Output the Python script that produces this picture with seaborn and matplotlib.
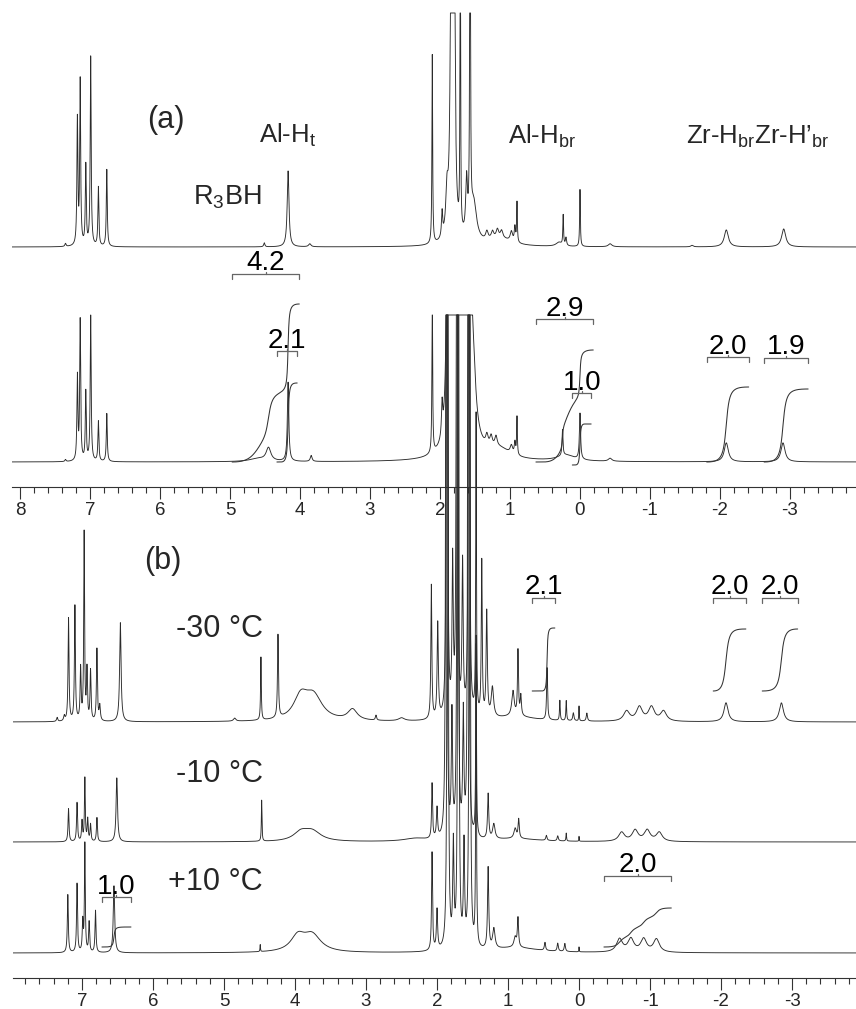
import numpy as np
import matplotlib
matplotlib.use('Agg')
import matplotlib.pyplot as plt
import seaborn as sns
from matplotlib.ticker import MultipleLocator, FuncFormatter

# ---- peak lists: (ppm, height in px, half width in ppm)
a1_peaks = [
    (7.35, 3, 0.01), (7.18, 126, 0.008), (7.14, 164, 0.008), (7.06, 80, 0.008),
    (6.99, 189, 0.008), (6.88, 59, 0.008), (6.76, 77, 0.008),
    (4.51, 4, 0.01), (4.17, 76, 0.015), (3.86, 3, 0.02),
    (2.11, 189, 0.006), (1.97, 25, 0.01), (1.90, 40, 0.02),
    (1.83, 900, 0.012), (1.80, 600, 0.01), (1.71, 500, 0.004), (1.62, 55, 0.015),
    (1.57, 600, 0.005), (1.52, 40, 0.05),
    (1.33, 8, 0.02), (1.25, 7, 0.02), (1.18, 8, 0.02), (1.12, 7, 0.02), (1.15, 8, 0.2),
    (0.98, 10, 0.02), (0.93, 15, 0.01), (0.90, 40, 0.006),
    (0.30, 4, 0.05), (0.24, 30, 0.006), (0.20, 8, 0.01), (0.00, 57, 0.006),
    (-0.43, 3, 0.03), (-1.60, 1.5, 0.02), (-2.09, 17, 0.035), (-2.91, 18, 0.035),
]
a2_peaks = [
    (7.35, 2, 0.01), (7.18, 84, 0.008), (7.14, 140, 0.008), (7.06, 69, 0.008),
    (6.99, 147, 0.008), (6.88, 40, 0.008), (6.76, 48, 0.008),
    (4.60, 3, 0.15), (4.45, 13, 0.04), (4.17, 79, 0.012), (3.84, 6, 0.015),
    (2.11, 162, 0.006), (1.97, 32, 0.01), (1.90, 45, 0.02),
    (1.88, 900, 0.01), (1.84, 800, 0.01), (1.73, 900, 0.02), (1.66, 900, 0.02),
    (1.60, 900, 0.02), (1.52, 40, 0.04),
    (1.33, 10, 0.02), (1.27, 10, 0.02), (1.20, 10, 0.02), (1.15, 10, 0.2),
    (0.98, 8, 0.02), (0.93, 12, 0.01), (0.90, 38, 0.006),
    (0.20, 6, 0.15), (0.25, 26, 0.008), (0.00, 46, 0.01),
    (-0.43, 3, 0.03), (-2.09, 19, 0.035), (-2.90, 19, 0.035),
]
m30_peaks = [
    (7.35, 4, 0.01), (7.25, 5, 0.01), (7.19, 103, 0.008), (7.10, 115, 0.008),
    (7.02, 52, 0.008), (6.97, 188, 0.007), (6.93, 50, 0.008), (6.88, 50, 0.008),
    (6.79, 72, 0.008), (6.75, 15, 0.01), (6.46, 99, 0.012),
    (4.85, 3, 0.02), (4.48, 63, 0.006), (4.24, 83, 0.008),
    (3.92, 22, 0.12), (3.74, 24, 0.15), (3.19, 11, 0.08), (2.86, 5, 0.01), (2.50, 3, 0.05),
    (2.08, 134, 0.008), (1.99, 95, 0.01),
    (1.86, 3000, 0.004), (1.72, 3000, 0.004), (1.55, 3000, 0.004),
    (1.78, 150, 0.01), (1.64, 150, 0.01), (1.45, 300, 0.006),
    (1.37, 155, 0.008), (1.30, 105, 0.01), (1.22, 30, 0.02), (0.90, 5, 0.35),
    (0.93, 25, 0.02), (0.86, 65, 0.008), (0.82, 20, 0.01), (0.45, 52, 0.008),
    (0.27, 20, 0.006), (0.18, 20, 0.006), (0.08, 8, 0.01), (0.00, 15, 0.004),
    (-0.11, 8, 0.01),
    (-0.67, 10, 0.05), (-0.85, 14, 0.05), (-1.02, 14, 0.05), (-1.19, 10, 0.05),
    (-2.07, 19, 0.035), (-2.85, 19, 0.035),
]
m10_peaks = [
    (7.19, 33, 0.008), (7.07, 39, 0.008), (7.00, 20, 0.008), (6.96, 63, 0.007),
    (6.92, 22, 0.008), (6.88, 17, 0.008), (6.79, 24, 0.008), (6.51, 64, 0.012),
    (4.47, 41, 0.005), (3.92, 8, 0.12), (3.76, 10, 0.15), (2.30, 3, 0.2),
    (2.07, 55, 0.008), (2.00, 30, 0.01),
    (1.87, 3000, 0.004), (1.71, 3000, 0.004), (1.56, 3000, 0.004),
    (1.79, 120, 0.01), (1.63, 120, 0.01), (1.45, 200, 0.006),
    (1.28, 45, 0.01), (1.20, 15, 0.02), (0.90, 3, 0.4),
    (0.90, 10, 0.02), (0.85, 19, 0.01), (0.46, 5, 0.01), (0.30, 5, 0.01),
    (0.18, 8, 0.005), (0.00, 5, 0.003),
    (-0.60, 9, 0.05), (-0.79, 11, 0.05), (-0.96, 11, 0.05), (-1.13, 9, 0.05),
]
p10_peaks = [
    (7.20, 58, 0.008), (7.07, 69, 0.008), (6.99, 30, 0.008), (6.96, 108, 0.007),
    (6.90, 30, 0.008), (6.81, 42, 0.008), (6.55, 67, 0.012),
    (4.49, 7, 0.004), (3.96, 15, 0.12), (3.76, 17, 0.15),
    (2.07, 98, 0.008), (2.00, 40, 0.01),
    (1.85, 3000, 0.004), (1.70, 3000, 0.004), (1.54, 3000, 0.004),
    (1.77, 100, 0.01), (1.62, 100, 0.01), (1.45, 300, 0.006),
    (1.28, 81, 0.01), (1.20, 20, 0.02), (0.90, 5, 0.4),
    (0.90, 10, 0.02), (0.86, 29, 0.01), (0.48, 8, 0.01), (0.30, 8, 0.01),
    (0.20, 8, 0.01), (0.00, 5, 0.003),
    (-0.57, 13, 0.05), (-0.73, 13, 0.05), (-0.91, 13, 0.05), (-1.09, 13, 0.05),
]

# integrals: (trace, start ppm, end ppm, label, curve start px, curve rise px, bracket y px)
a_integrals = [
    ('a2', 4.97, 4.01, '4.2', 0, 158, 213),
    ('a2', 4.33, 4.04, '2.1', 0, 79, 136),
    ('a2', 0.63, -0.19, '2.9', 0, 112, 168),
    ('a2', 0.11, -0.16, '1.0', -3, 41, 94),
    ('a2', -1.81, -2.41, '2.0', 0, 75, 130),
    ('a2', -2.63, -3.26, '1.9', 0, 73, 129),
]
b_integrals = [
    ('-30', 0.66, 0.34, '2.1', 31, 63, 380),
    ('-30', -1.89, -2.35, '2.0', 31, 62, 380),
    ('-30', -2.58, -3.08, '2.0', 31, 62, 380),
    ('+10', 6.72, 6.31, '1.0', 6, 20, 81),
    ('+10', -0.35, -1.30, '2.0', 6, 39, 102),
]

W, H = 856, 1009
LINE = '#2b2b2b'


def spectrum(x, peaks):
    y = np.zeros_like(x)
    for c, h, w in peaks:
        y += h / (1 + ((x - c) / w) ** 2)
    return y


def fx(px):
    return px / W


def fy(py):
    return 1 - py / H


sns.set_style('white')
plt.rcParams['font.family'] = ['Liberation Sans', 'DejaVu Sans']
plt.rcParams['mathtext.fontset'] = 'custom'
plt.rcParams['mathtext.rm'] = 'Liberation Sans'
plt.rcParams['mathtext.it'] = 'Liberation Sans'
plt.rcParams['axes.unicode_minus'] = False

fig = plt.figure(figsize=(W / 100, H / 100), dpi=100)

ax_a = fig.add_axes([fx(12), fy(487), fx(W - 12), 487 / H])
ax_b = fig.add_axes([fx(13), fy(978), fx(W - 13), (978 - 300) / H])
for ax, (l, r), top in [(ax_a, (8.114, -3.943), 487), (ax_b, (7.972, -3.901), 678)]:
    ax.set_xlim(l, r)
    ax.set_ylim(0, top)
    ax.patch.set_alpha(0)
    for s in ['left', 'right', 'top']:
        ax.spines[s].set_visible(False)
    ax.spines['bottom'].set_color('#333333')
    ax.spines['bottom'].set_linewidth(0.8)
    ax.set_yticks([])
    ax.xaxis.set_major_locator(MultipleLocator(1))
    ax.xaxis.set_minor_locator(MultipleLocator(0.2))
    ax.xaxis.set_major_formatter(FuncFormatter(lambda v, p: f"{int(round(v))}"))
    ax.tick_params(axis='x', which='both', bottom=True, direction='out', width=0.8,
                   color='#333333')
    ax.tick_params(axis='x', which='major', length=8.5, labelsize=13.5, pad=2.5)
    ax.tick_params(axis='x', which='minor', length=4)
    ax.grid(False)

xa = np.linspace(8.114, -3.943, 14000)
xb = np.linspace(7.972, -3.901, 14000)

# traces: name -> (axes, grid, peaks, baseline px, ceiling px above baseline)
traces = {
    'a1': (ax_a, xa, a1_peaks, 240, 234),
    'a2': (ax_a, xa, a2_peaks, 25, 147),
    '-30': (ax_b, xb, m30_peaks, 256, 407),
    '-10': (ax_b, xb, m10_peaks, 136, 527),
    '+10': (ax_b, xb, p10_peaks, 25, 638),
}
raw = {}
for name, (ax, x, peaks, base, ceil) in traces.items():
    y = spectrum(x, peaks)
    raw[name] = y
    sns.lineplot(x=x, y=base + np.minimum(y, ceil), ax=ax, color=LINE,
                 linewidth=0.65, estimator=None, sort=False)


def draw_integral(ax, name, start, end, label, y0, rise, yb):
    _, x, _, base, _ = traces[name]
    m = (x <= start) & (x >= end)
    seg = raw[name][m]
    # straight baseline between the two ends of the region
    bl = np.linspace(seg[0], seg[-1], seg.size)
    c = np.cumsum(np.clip(seg - bl, 0, None))
    c = c / c[-1] * rise
    ax.plot(x[m], base + y0 + c, color='#333333', lw=0.75)
    mid = (start + end) / 2
    ax.plot([start, start, end, end], [yb - 5, yb, yb, yb - 5], color='#666666', lw=0.9)
    ax.plot([mid, mid], [yb, yb + 2], color='#666666', lw=0.9)
    ax.text(mid, yb + 3.5, label, ha='center', va='baseline', fontsize=20, color='black')


for it in a_integrals:
    draw_integral(ax_a, *it)
for it in b_integrals:
    draw_integral(ax_b, *it)

# labels
fig.text(fx(166), fy(120), '(a)', ha='center', va='center', fontsize=22)
fig.text(fx(259), fy(143), r'Al-H$_\mathrm{t}$', ha='left', va='baseline', fontsize=18.5)
fig.text(fx(193), fy(205), r'R$_\mathrm{3}$BH', ha='left', va='baseline', fontsize=19.5)
fig.text(fx(508), fy(144), r'Al-H$_\mathrm{br}$', ha='left', va='baseline', fontsize=18.5)
fig.text(fx(686), fy(144), r'Zr-H$_\mathrm{br}$Zr-H’$_\mathrm{br}$', ha='left',
         va='baseline', fontsize=18.5)
fig.text(fx(163), fy(561), '(b)', ha='center', va='center', fontsize=22)
fig.text(fx(176), fy(637), '-30 °C', ha='left', va='baseline', fontsize=22)
fig.text(fx(176), fy(782), '-10 °C', ha='left', va='baseline', fontsize=22)
fig.text(fx(168), fy(890), '+10 °C', ha='left', va='baseline', fontsize=22)

fig.savefig('out.png', dpi=100)
